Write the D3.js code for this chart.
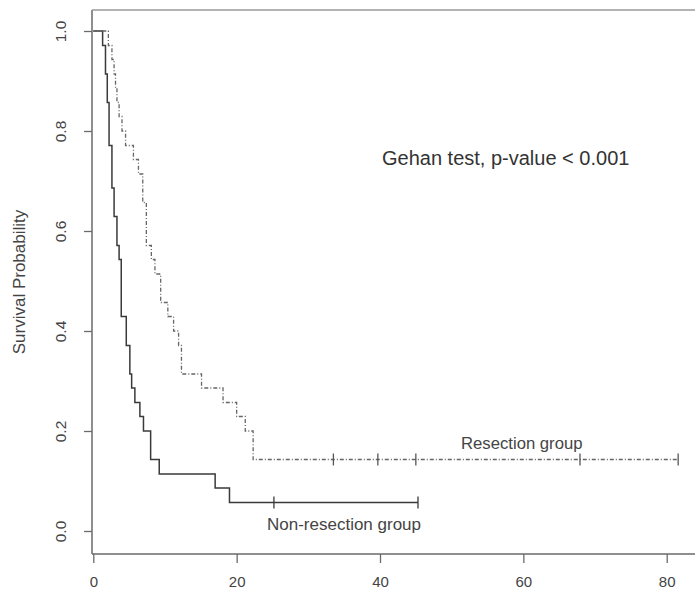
<!DOCTYPE html>
<html>
<head>
<meta charset="utf-8">
<script src="https://cdn.jsdelivr.net/npm/d3@7"></script>
<style>
  body { margin: 0; background: #fff; }
  svg { display: block; font-family: "Liberation Sans", Arial, sans-serif; }
</style>
</head>
<body>
<div id="grafico"></div>
<script>
// Tiempos (meses) y probabilidad de supervivencia, grupo sin resección
const tiemposNoResec = [0, 1.3, 1.7, 1.95, 2.2, 2.6, 2.9, 3.3, 3.6, 3.9, 4.6, 5.1, 5.35, 5.8, 6.5, 7.0, 8.0, 9.2, 17.0, 19.0, 45.3];
const survNoResec = [1, 0.971, 0.914, 0.857, 0.771, 0.686, 0.629, 0.571, 0.543, 0.429, 0.371, 0.314, 0.286, 0.257, 0.229, 0.2, 0.143, 0.114, 0.086, 0.057, 0.057];
const censuraNoResec = [25.2, 45.3];

// Tiempos y supervivencia, grupo con resección
const tiemposResec = [0, 2.1, 2.6, 2.9, 3.1, 3.3, 3.6, 4.0, 4.5, 5.6, 6.3, 6.9, 7.4, 8.1, 8.6, 9.4, 10.4, 11.2, 11.9, 12.3, 15.1, 18.1, 20.0, 21.2, 22.3, 81.6];
const survResec = [1, 0.971, 0.943, 0.914, 0.886, 0.857, 0.829, 0.8, 0.771, 0.743, 0.714, 0.657, 0.571, 0.543, 0.514, 0.457, 0.429, 0.4, 0.371, 0.314, 0.286, 0.257, 0.229, 0.2, 0.143, 0.143];
const censuraResec = [33.5, 39.7, 45.0, 67.9, 81.6];

// Marcas de los ejes
const ticksX = [0, 20, 40, 60, 80];
const ticksY = [0, 0.2, 0.4, 0.6, 0.8, 1.0];

const ancho = 695, alto = 593;
const izq = 92, arriba = 10, abajo = 554;

const svg = d3.select("#grafico")
  .append("svg")
  .attr("width", ancho)
  .attr("height", alto);

const x = d3.scaleLinear().domain([0, 80]).range([93.3, 666.7]);
const y = d3.scaleLinear().domain([0, 1]).range([531, 31]);

// Marco: izquierda, arriba y abajo
svg.append("line")
  .attr("x1", izq).attr("x2", izq).attr("y1", arriba).attr("y2", abajo)
  .attr("stroke", "#6a6a6a").attr("stroke-width", 1.5);
svg.append("line")
  .attr("x1", izq).attr("x2", ancho).attr("y1", arriba).attr("y2", arriba)
  .attr("stroke", "#9a9a9a").attr("stroke-width", 1.5);
svg.append("line")
  .attr("x1", izq).attr("x2", ancho).attr("y1", abajo).attr("y2", abajo)
  .attr("stroke", "#6a6a6a").attr("stroke-width", 1.5);

// Eje X
const ejeX = svg.append("g")
  .attr("transform", `translate(0,${abajo})`)
  .call(d3.axisBottom(x).tickValues(ticksX).tickSize(9).tickSizeOuter(0).tickFormat(d3.format("d")));
ejeX.select(".domain").remove();
ejeX.selectAll("line").attr("stroke", "#6a6a6a").attr("stroke-width", 1.3);
ejeX.selectAll("text")
  .attr("y", 22)
  .attr("fill", "#444")
  .style("font-size", "15px")
  .style("font-family", "Liberation Sans, Arial, sans-serif");

// Eje Y (etiquetas giradas como en R)
const ejeY = svg.append("g")
  .attr("transform", `translate(${izq},0)`)
  .call(d3.axisLeft(y).tickValues(ticksY).tickSize(8).tickSizeOuter(0).tickFormat(d3.format(".1f")));
ejeY.select(".domain").remove();
ejeY.selectAll("line").attr("stroke", "#6a6a6a").attr("stroke-width", 1.3);
ejeY.selectAll("text")
  .attr("x", 0).attr("y", 0).attr("dy", 0)
  .attr("transform", "translate(-30,0) rotate(-90)")
  .attr("text-anchor", "middle")
  .attr("dominant-baseline", "middle")
  .attr("fill", "#444")
  .style("font-size", "15.5px")
  .style("font-family", "Liberation Sans, Arial, sans-serif");

svg.append("text")
  .attr("transform", `translate(21,${(arriba + abajo) / 2}) rotate(-90)`)
  .attr("text-anchor", "middle")
  .attr("dominant-baseline", "middle")
  .attr("fill", "#444")
  .style("font-size", "17px")
  .text("Survival Probability");

// Curvas escalonadas de Kaplan-Meier
const linea = d3.line()
  .x(d => x(d[0]))
  .y(d => y(d[1]))
  .curve(d3.curveStepAfter);

svg.append("path")
  .datum(d3.zip(tiemposNoResec, survNoResec))
  .attr("d", linea)
  .attr("fill", "none")
  .attr("stroke", "#3a3a3a")
  .attr("stroke-width", 1.5);

svg.append("path")
  .datum(d3.zip(tiemposResec, survResec))
  .attr("d", linea)
  .attr("fill", "none")
  .attr("stroke", "#666")
  .attr("stroke-width", 1.3)
  .attr("stroke-dasharray", "4,2,1,2");

// Función para obtener la supervivencia en un tiempo dado (para las marcas de censura)
function survEn(tiempos, surv, t) {
  const i = d3.bisectRight(tiempos, t) - 1;
  return surv[Math.max(0, i)];
}

// Marcas de censura
censuraNoResec.forEach((t) => {
  svg.append("line")
    .attr("x1", x(t)).attr("x2", x(t))
    .attr("y1", y(survEn(tiemposNoResec, survNoResec, t)) - 6)
    .attr("y2", y(survEn(tiemposNoResec, survNoResec, t)) + 6)
    .attr("stroke", "#3a3a3a").attr("stroke-width", 1.3);
});
censuraResec.forEach((t) => {
  svg.append("line")
    .attr("x1", x(t)).attr("x2", x(t))
    .attr("y1", y(survEn(tiemposResec, survResec, t)) - 6)
    .attr("y2", y(survEn(tiemposResec, survResec, t)) + 6)
    .attr("stroke", "#555").attr("stroke-width", 1.3);
});

// Textos
svg.append("text")
  .attr("x", 382).attr("y", 165)
  .attr("fill", "#333")
  .style("font-size", "20px")
  .text("Gehan test, p-value < 0.001");

svg.append("text")
  .attr("x", 461).attr("y", 449)
  .attr("fill", "#444")
  .style("font-size", "16.7px")
  .text("Resection group");

svg.append("text")
  .attr("x", 267).attr("y", 530)
  .attr("fill", "#444")
  .style("font-size", "17px")
  .text("Non-resection group");
</script>
</body>
</html>
